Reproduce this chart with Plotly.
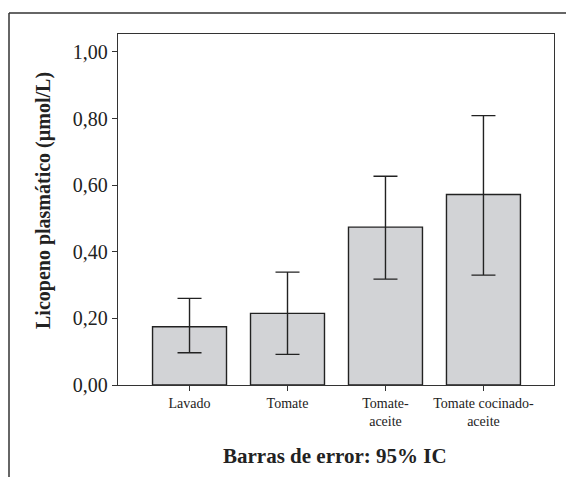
import plotly.graph_objects as go

categories = ["Lavado", "Tomate", "Tomate-<br>aceite", "Tomate cocinado-<br>aceite"]
means = [0.175, 0.215, 0.474, 0.572]
ci_upper = [0.260, 0.339, 0.627, 0.809]
ci_lower = [0.097, 0.092, 0.318, 0.330]
y_ticks = [0.0, 0.2, 0.4, 0.6, 0.8, 1.0]

err_plus = [u - m for u, m in zip(ci_upper, means)]
err_minus = [m - l for m, l in zip(means, ci_lower)]
xpos = list(range(len(categories)))

OFF = 8  # page body margin
W, H = 574 - OFF, 477 - OFF
L, R, T, B = 118 - OFF, 20, 34 - OFF, 92
pw, ph = W - L - R, H - T - B

def px(x):
    return (x - OFF - L) / pw

def py(y):
    return (H - B - (y - OFF)) / ph

fig = go.Figure()
fig.add_trace(go.Bar(
    x=xpos, y=means, width=0.755,
    marker=dict(color="#d2d3d6", line=dict(color="#222222", width=1.4)),
    error_y=dict(type="data", symmetric=False, array=err_plus, arrayminus=err_minus,
                 color="#222222", thickness=1.4, width=12),
    showlegend=False,
))

font = "Liberation Serif, Times New Roman, serif"
fig.update_layout(
    width=W, height=H,
    margin=dict(l=L, r=R, t=T, b=B, pad=0),
    paper_bgcolor="white", plot_bgcolor="white",
    separators=",.",
    font=dict(family=font, color="#222222"),
    xaxis=dict(
        range=[-0.73, 3.72], tickvals=xpos, ticktext=categories,
        showline=True, linecolor="#333333", linewidth=1.3, mirror=True,
        ticks="outside", ticklen=5, tickcolor="#333333",
        showgrid=False, zeroline=False, tickfont=dict(size=14, family=font),
    ),
    yaxis=dict(
        range=[0, 1.054], tickvals=y_ticks, tickformat=".2f",
        showline=True, linecolor="#333333", linewidth=1.3, mirror=True,
        ticks="outside", ticklen=5, tickcolor="#333333",
        showgrid=False, zeroline=False, tickfont=dict(size=20, family=font),
    ),
    annotations=[
        dict(text="<b>Licopeno plasmático (µmol/L)</b>", xref="paper", yref="paper",
             x=px(43), y=py(201), textangle=-90, showarrow=False,
             font=dict(size=20, family=font, color="#222222"),
             xanchor="center", yanchor="middle"),
        dict(text="<b>Barras de error: 95% IC</b>", xref="paper", yref="paper",
             x=px(335), y=py(456), showarrow=False,
             font=dict(size=21, family=font, color="#222222"),
             xanchor="center", yanchor="middle"),
    ],
    shapes=[
        dict(type="line", xref="paper", yref="paper", x0=px(9), x1=px(574), y0=py(13), y1=py(13),
             line=dict(color="#333333", width=1.5)),
        dict(type="line", xref="paper", yref="paper", x0=px(9), x1=px(9), y0=py(13), y1=py(477),
             line=dict(color="#333333", width=1.5)),
    ],
)

fig.write_html("out.html")
